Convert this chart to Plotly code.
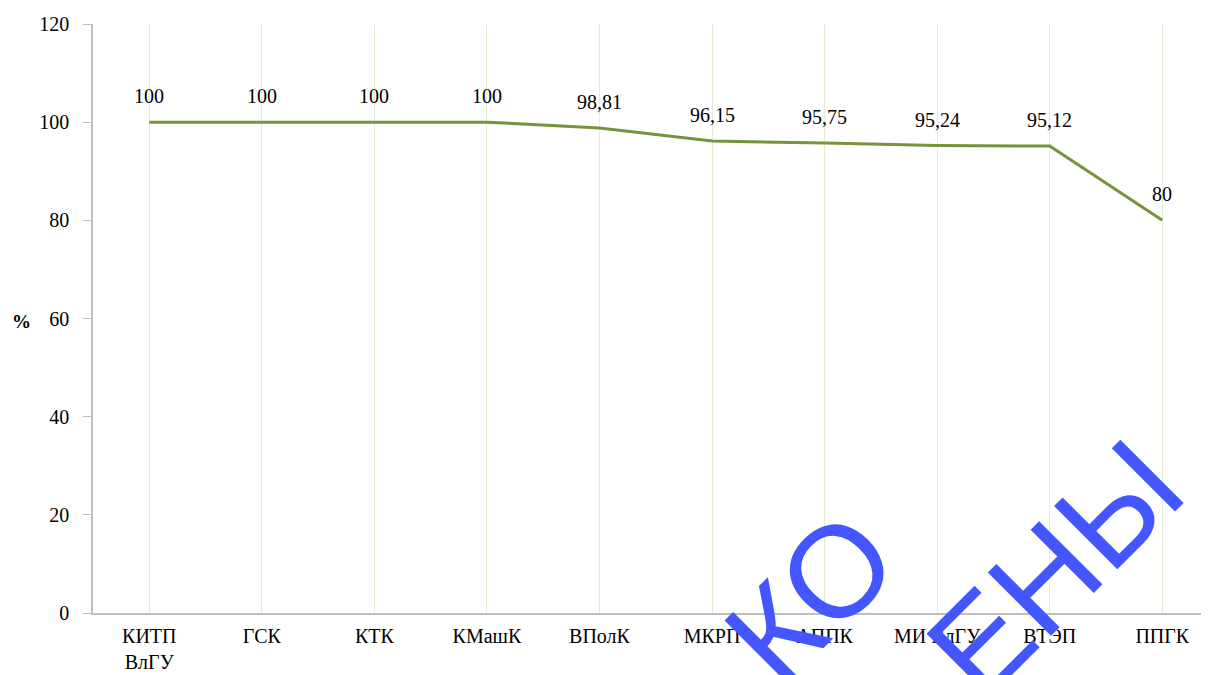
import plotly.graph_objects as go

categories = ["КИТП<br>ВлГУ", "ГСК", "КТК", "КМашК", "ВПолК", "МКРП", "АППК", "МИ ВлГУ", "ВТЭП", "ППГК"]
values = [100, 100, 100, 100, 98.81, 96.15, 95.75, 95.24, 95.12, 80]
value_labels = ["100", "100", "100", "100", "98,81", "96,15", "95,75", "95,24", "95,12", "80"]
y_ticks = [0, 20, 40, 60, 80, 100, 120]

serif = "'Liberation Serif', 'Times New Roman', serif"
x_idx = list(range(len(categories)))

# page body has ~8px margin; figure is sized/margined to compensate
L, T, B, R = 85, 16, 62, 0
W, H = 1201, 667
PW, PH = W - L - R, H - T - B


def px_to_paper(px, py):
    # reference image pixel coords -> paper coords
    return (px - 8 - L) / PW, 1 - (py - 8 - T) / PH


fig = go.Figure()
fig.add_trace(go.Scatter(
    x=x_idx, y=values, mode="lines",
    line=dict(color="#77933C", width=3),
    hoverinfo="skip", showlegend=False,
))

for xi, v, lab in zip(x_idx, values, value_labels):
    fig.add_annotation(x=xi, y=v, text=lab, showarrow=False, yshift=26,
                       xanchor="center", yanchor="middle",
                       font=dict(family=serif, size=20, color="#000000"))

# "%" axis caption
px, py = px_to_paper(21, 321)
fig.add_annotation(xref="paper", yref="paper", x=px, y=py, text="<b>%</b>",
                   showarrow=False, xanchor="center", yanchor="middle",
                   font=dict(family=serif, size=19, color="#000000"))

# watermark fragments (partly outside the picture, as in the reference)
wm_font = dict(family="'Liberation Sans', Arial, sans-serif", size=130, color="#4456FF")
px, py = px_to_paper(810, 598)
fig.add_annotation(xref="paper", yref="paper", x=px, y=py, text="КО", showarrow=False,
                   textangle=-45, xanchor="center", yanchor="middle", font=wm_font)
px, py = px_to_paper(1055, 568)
fig.add_annotation(xref="paper", yref="paper", x=px, y=py, text="ЕНЫ", showarrow=False,
                   textangle=-45, xanchor="center", yanchor="middle", font=wm_font)

fig.update_layout(
    width=W, height=H,
    margin=dict(l=L, r=R, t=T, b=B, pad=0),
    paper_bgcolor="white", plot_bgcolor="white",
    xaxis=dict(
        tickmode="array", tickvals=x_idx, ticktext=categories,
        range=[-0.5, 9.415],
        showgrid=True, gridcolor="#E6EBD3", gridwidth=1,
        showline=True, linecolor="#BFBFBF", linewidth=1.5,
        ticks="", zeroline=False, ticklabelstandoff=4,
        tickfont=dict(family=serif, size=20, color="#000000"),
    ),
    yaxis=dict(
        range=[0, 120], tickvals=y_ticks,
        showgrid=False, zeroline=False,
        showline=True, linecolor="#BFBFBF", linewidth=1.5,
        ticks="outside", ticklen=8, tickcolor="#BFBFBF",
        ticklabelstandoff=10,
        tickfont=dict(family=serif, size=20, color="#000000"),
    ),
)

fig.write_html("out.html")
